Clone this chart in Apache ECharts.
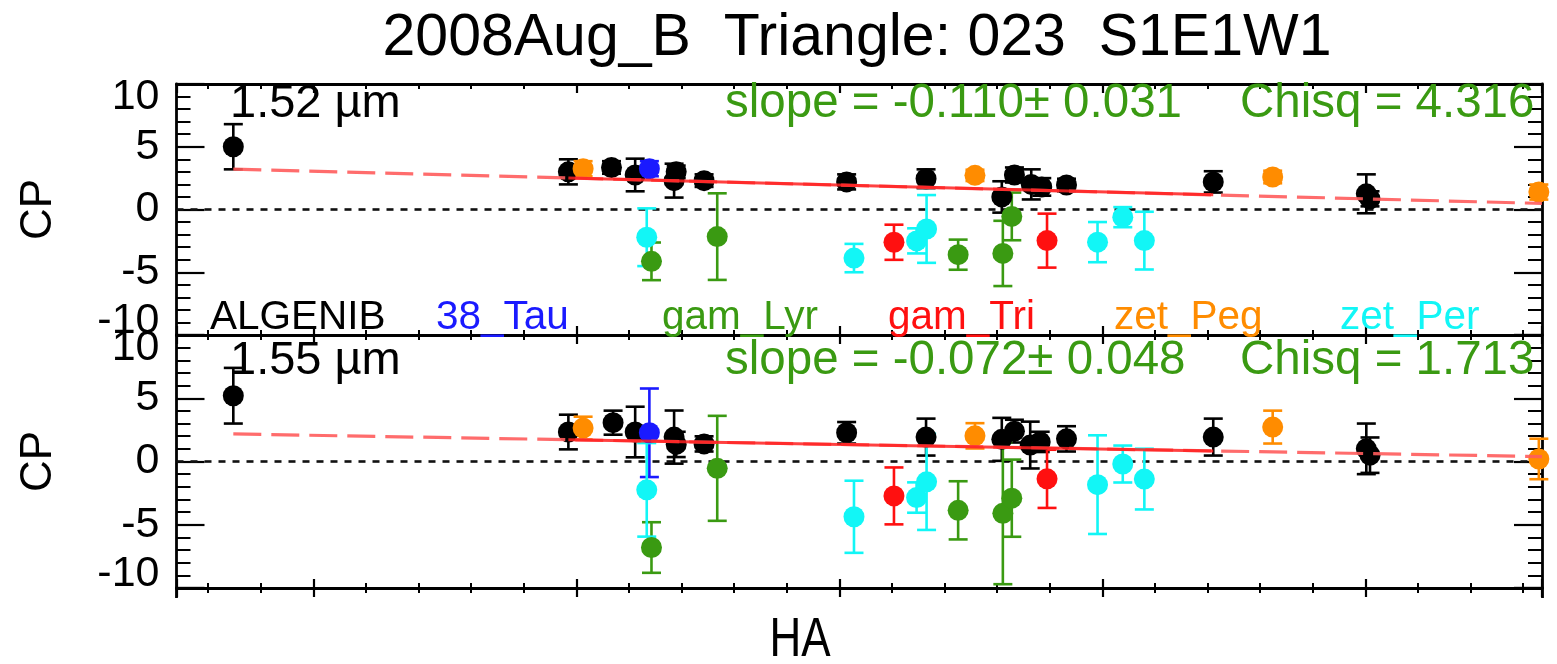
<!DOCTYPE html>
<html><head><meta charset="utf-8">
<script src="https://cdn.jsdelivr.net/npm/echarts@6/dist/echarts.min.js"></script>
<style>html,body{margin:0;padding:0;background:#fff}#c{width:1557px;height:664px}</style>
</head><body><div id="c"></div>
<script>
// ---------------- data ----------------
const chartTitle = '2008Aug_B  Triangle: 023  S1E1W1';
const xName = 'HA';
const yName = 'CP';
const stars = ['ALGENIB', '38_Tau', 'gam_Lyr', 'gam_Tri', 'zet_Peg', 'zet_Per'];
const starColors = ['#000000', '#1a1aff', '#3a9a12', '#ff1010', '#ff8c00', '#12f6f6'];
const waveLabels = ['1.52 \u00b5m', '1.55 \u00b5m'];
const slopeLabels = ['slope = -0.110\u00b1 0.031', 'slope = -0.072\u00b1 0.048'];
const chisqLabels = ['Chisq = 4.316', 'Chisq = 1.713'];
const fitSlope = [-0.110, -0.072];
const fitIntercept = [1.40, 0.99];
const fitDashedFrom = -16.52;
const fitSolidRange = [-10.15, 2.11];
const xRange = [-17.6, 8.36];
const yRange = [-10, 10];
const yTickStep = 5;

// each point: [HA, CP, error]
const p1_ALGENIB = [[-16.52,5.0,1.8],[-10.15,3.0,1.0],[-9.33,3.35,0.5],[-8.88,2.75,1.3],[-8.14,2.3,1.35],[-8.10,3.0,0.5],[-7.57,2.3,0.5],[-4.86,2.2,0.6],[-3.35,2.45,0.75],[-1.91,1.0,1.25],[-1.67,2.75,0.6],[-1.35,2.0,1.2],[-1.15,1.8,0.7],[-0.68,1.95,0.5],[2.11,2.2,0.85],[5.02,1.25,1.55],[5.09,0.85,0.6]];
const p1_38Tau = [[-8.61,3.25,0.6]];
const p1_gamLyr = [[-8.57,-4.13,1.5],[-7.32,-2.16,3.45],[-2.74,-3.6,1.2],[-1.89,-3.5,2.6],[-1.72,-0.55,1.9]];
const p1_gamTri = [[-3.96,-2.61,1.4],[-1.05,-2.48,2.15]];
const p1_zetPeg = [[-9.87,3.25,0.6],[-2.42,2.72,0.45],[3.24,2.59,0.5],[8.30,1.39,0.6]];
const p1_zetPer = [[-8.66,-2.21,2.3],[-4.72,-3.87,1.13],[-3.53,-2.5,1.0],[-3.34,-1.55,2.7],[-0.09,-2.6,1.6],[0.39,-0.61,0.8],[0.80,-2.48,2.3]];

const p2_ALGENIB = [[-16.52,5.2,2.2],[-10.15,2.33,1.37],[-9.30,3.07,0.95],[-8.88,2.33,2.0],[-8.14,1.93,2.1],[-8.10,1.35,1.0],[-7.57,1.39,0.6],[-4.86,2.27,0.85],[-3.35,1.93,1.46],[-1.91,1.75,1.7],[-1.67,2.4,0.9],[-1.37,1.3,1.85],[-1.18,1.55,0.8],[-0.68,1.79,1.0],[2.11,1.93,1.46],[5.02,1.0,2.0],[5.09,0.5,1.4]];
const p2_38Tau = [[-8.61,2.27,3.5]];
const p2_gamLyr = [[-8.57,-6.8,2.0],[-7.32,-0.54,4.15],[-2.74,-3.86,2.3],[-1.89,-4.1,5.6],[-1.72,-2.9,3.05]];
const p2_gamTri = [[-3.96,-2.72,2.25],[-1.05,-1.37,2.3]];
const p2_zetPeg = [[-9.87,2.64,0.9],[-2.42,2.03,1.0],[3.24,2.72,1.3],[8.30,0.2,1.6]];
const p2_zetPer = [[-8.66,-2.24,3.7],[-4.72,-4.37,2.85],[-3.53,-2.85,1.2],[-3.34,-1.61,3.8],[-0.09,-1.83,3.9],[0.39,-0.2,1.46],[0.80,-1.39,2.4]];

const panels = [
  [p1_ALGENIB, p1_38Tau, p1_gamLyr, p1_gamTri, p1_zetPeg, p1_zetPer],
  [p2_ALGENIB, p2_38Tau, p2_gamLyr, p2_gamTri, p2_zetPeg, p2_zetPer]
];

// ---------------- layout / style ----------------
const FONT = "'Liberation Sans', Arial, Helvetica, sans-serif";
const GREEN = '#3a9a12';
const gridLeft = 176.5, gridRight = 15;
const grids = [
  {top: 84, height: 251},
  {top: 335, height: 253},
  {top: 588, height: 252}
];

function xAx(g, pos) {
  return {
    type: 'value', gridIndex: g, position: pos, min: xRange[0], max: xRange[1], splitNumber: 5,
    axisLine: {show: true, onZero: false, lineStyle: {color: '#000', width: 2.8}},
    axisTick: {show: true, inside: true, length: 9, lineStyle: {color: '#000', width: 2.2}},
    minorTick: {show: true, splitNumber: 5, length: 5, lineStyle: {color: '#000', width: 2}},
    axisLabel: {show: false}, splitLine: {show: false}, minorSplitLine: {show: false}
  };
}
function yAx(g, pos, showLabels) {
  return {
    type: 'value', gridIndex: g, position: pos, min: yRange[0], max: yRange[1], interval: yTickStep,
    axisLine: {show: true, onZero: false, lineStyle: {color: '#000', width: 2.8}},
    axisTick: {show: true, inside: true, length: 28, lineStyle: {color: '#000', width: 2.2}},
    minorTick: {show: true, splitNumber: 5, length: 14, lineStyle: {color: '#000', width: 2}},
    axisLabel: {
      show: showLabels, margin: 17, color: '#000', fontFamily: FONT, fontSize: 43,
      showMinLabel: true, showMaxLabel: true,
      formatter: v => v === yRange[1] ? '{t|' + v + '}' : (v === yRange[0] ? '{b|' + v + '}' : String(v)),
      rich: {
        t: {fontFamily: FONT, fontSize: 43, color: '#000', padding: [26, 0, 0, 0]},
        b: {fontFamily: FONT, fontSize: 43, color: '#000', padding: [0, 0, 28, 0]}
      }
    },
    splitLine: {show: false}, minorSplitLine: {show: false}
  };
}

const xAxes = [], yAxes = [];
grids.forEach((g, i) => {
  xAxes.push(xAx(i, 'bottom'), xAx(i, 'top'));
  yAxes.push(yAx(i, 'left', i < 2), yAx(i, 'right', false));
});

function errSeries(g, data, color) {
  return {
    type: 'custom', xAxisIndex: g * 2, yAxisIndex: g * 2, data: data, clip: false, silent: true, z: 3,
    encode: {x: 0, y: 1},
    renderItem: (params, api) => {
      const x = api.value(0), y = api.value(1), e = api.value(2);
      const t = api.coord([x, y + e]), b = api.coord([x, y - e]);
      const hw = 9.5;
      const st = {stroke: color, lineWidth: 2.6};
      return {type: 'group', children: [
        {type: 'line', shape: {x1: t[0], y1: t[1], x2: b[0], y2: b[1]}, style: st},
        {type: 'line', shape: {x1: t[0] - hw, y1: t[1], x2: t[0] + hw, y2: t[1]}, style: st},
        {type: 'line', shape: {x1: b[0] - hw, y1: b[1], x2: b[0] + hw, y2: b[1]}, style: st}
      ]};
    }
  };
}

const series = [];
panels.forEach((pan, g) => {
  // zero line
  series.push({
    type: 'line', xAxisIndex: g * 2, yAxisIndex: g * 2, data: [[xRange[0], 0], [xRange[1], 0]],
    symbol: 'none', silent: true, z: 2,
    lineStyle: {color: '#111', width: 2.6, type: [7, 7]}
  });
  pan.forEach((d, s) => {
    series.push(errSeries(g, d, starColors[s]));
    series.push({
      type: 'scatter', name: stars[s], xAxisIndex: g * 2, yAxisIndex: g * 2,
      data: d.map(p => [p[0], p[1]]), symbol: 'circle', symbolSize: 21, clip: false, z: 3,
      itemStyle: {color: starColors[s], opacity: 1}
    });
  });
  const f = x => fitIntercept[g] + fitSlope[g] * x;
  series.push({
    type: 'line', xAxisIndex: g * 2, yAxisIndex: g * 2, symbol: 'none', silent: true, z: 4,
    data: [[fitDashedFrom, f(fitDashedFrom)], [xRange[1], f(xRange[1])]],
    lineStyle: {color: '#ff5c5c', width: 3.2, type: [28, 10], opacity: 0.9}
  });
  series.push({
    type: 'line', xAxisIndex: g * 2, yAxisIndex: g * 2, symbol: 'none', silent: true, z: 4,
    data: [[fitSolidRange[0], f(fitSolidRange[0])], [fitSolidRange[1], f(fitSolidRange[1])]],
    lineStyle: {color: '#ff2020', width: 3, type: 'solid', opacity: 0.85}
  });
});

// ---------------- texts ----------------
const graphics = [];
function txt(text, x, y, size, color, align, extra) {
  return Object.assign({
    type: 'text', x: x, y: y, z: 50,
    style: {text: text, font: size + 'px ' + FONT, fill: color, textAlign: align || 'left', textVerticalAlign: 'middle'}
  }, extra || {});
}
graphics.push(txt(chartTitle, 857, 39, 59, '#000', 'center'));
const panelTextY = [104, 361];
const panelCenterY = [209.5, 461.5];
for (let g = 0; g < 2; g++) {
  graphics.push(txt(waveLabels[g], 230, panelTextY[g], 47, '#000'));
  graphics.push(txt(slopeLabels[g], 725, panelTextY[g], 47.5, GREEN));
  graphics.push(txt(chisqLabels[g], 1240, panelTextY[g], 47.5, GREEN));
  graphics.push(txt(yName, 39, panelCenterY[g], 44, '#000', 'center', {rotation: Math.PI / 2}));
}
stars.forEach((s, i) => {
  graphics.push(txt(s, 210 + i * 226, 318, 40.5, starColors[i] === '#000000' ? '#000' : starColors[i]));
});
// page cut below third panel
graphics.push({type: 'rect', z: 90, shape: {x: 0, y: 598, width: 1557, height: 66}, style: {fill: '#fff'}});
graphics.push(txt(xName, 800, 641, 55, '#000', 'center', {z: 95, scaleX: 0.8, originX: 0, originY: 0}));

const chart = echarts.init(document.getElementById('c'), null, {renderer: 'canvas'});
chart.setOption({
  backgroundColor: '#fff',
  animation: false,
  grid: grids.map(g => ({left: gridLeft, right: gridRight, top: g.top, height: g.height, containLabel: false, outerBoundsMode: 'none', show: false})),
  xAxis: xAxes,
  yAxis: yAxes,
  series: series,
  graphic: {elements: graphics}
});
</script></body></html>
